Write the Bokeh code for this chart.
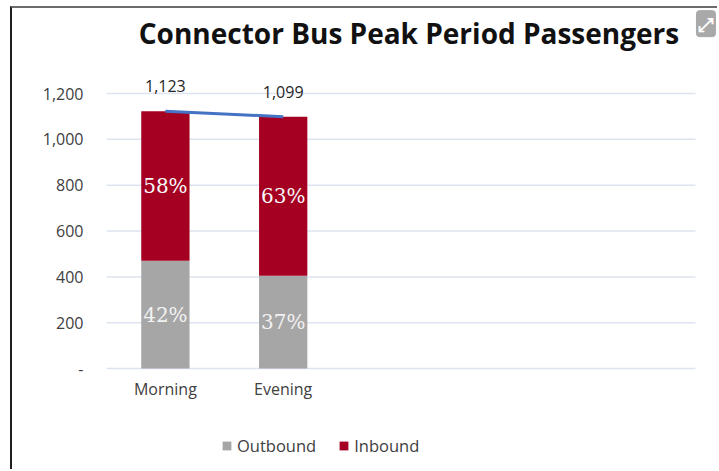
from bokeh.plotting import figure
from bokeh.models import ColumnDataSource, Range1d, Legend, LegendItem, FixedTicker, NumeralTickFormatter, Label
from bokeh.core.properties import value
from bokeh.embed import file_html
from bokeh.resources import INLINE

# ---- data ----
categories = ["Morning", "Evening", "", "", ""]   # five category slots, three empty
periods = ["Morning", "Evening"]
outbound = [470, 405]
inbound = [653, 694]
totals = [1123, 1099]
outbound_pct = ["42%", "37%"]
inbound_pct = ["58%", "63%"]
y_ticks = [0, 200, 400, 600, 800, 1000, 1200]
title_text = "Connector Bus Peak Period Passengers"

GRAY = "#a6a6a6"
RED = "#a50021"
FONT = "Open Sans"

n_slots = len(categories)
xpos = [i + 0.5 for i in range(len(periods))]

src = ColumnDataSource(dict(
    x=xpos,
    period=periods,
    outbound=outbound,
    inbound=inbound,
    total=totals,
    total_lbl=[f"{t:,}" for t in totals],
    out_mid=[o / 2 for o in outbound],
    in_mid=[o + i / 2 for o, i in zip(outbound, inbound)],
    out_pct=outbound_pct,
    in_pct=inbound_pct,
))

# frame spans the full canvas so title, legend and corner icon sit inside it
p = figure(width=707, height=463, x_range=Range1d(0, n_slots + 0.187),
           y_range=Range1d(-436, 1571), output_backend="svg", toolbar_location=None,
           min_border_left=94, min_border_right=2, min_border_top=0, min_border_bottom=3)
p.styles = {"margin-top": "6px", "margin-left": "10px",
            "border-top": "2px solid #6b6b6b", "border-left": "2px solid #1e1e1e"}

# horizontal gridlines across the category slots
p.segment(x0=[0] * len(y_ticks), x1=[n_slots] * len(y_ticks), y0=y_ticks, y1=y_ticks,
          line_color="#dde3ef", line_width=1.5)

title = Label(x=2.568, y=1462, text=title_text, text_align="center",
              text_baseline="middle", text_font=FONT, text_font_style="bold",
              text_font_size="28px", text_color="#111111")
p.add_layout(title)

icon = Label(x=n_slots + 0.089, y=1505, text="⤢", text_align="center",
             text_baseline="middle", text_font="DejaVu Sans", text_font_size="19px",
             text_font_style="bold", text_color="white",
             background_fill_color="#a9a9a9", border_line_color="#a9a9a9",
             border_radius=3, padding=2)
p.add_layout(icon)

rs = p.vbar_stack(["outbound", "inbound"], x="x", width=0.41, source=src,
                  fill_color=[GRAY, RED], line_color=None)

p.line(x="x", y="total", source=src, line_color="#4472c4", line_width=3)

p.text(x="x", y="total", text="total_lbl", source=src, text_align="center",
       text_baseline="bottom", y_offset=-19, text_font=value(FONT),
       text_font_size="16px", text_color="#262626")
p.text(x="x", y="out_mid", text="out_pct", source=src, text_align="center",
       text_baseline="middle", text_font=value("DejaVu Serif"),
       text_font_size="20px", text_color="#f2f2f2")
p.text(x="x", y="in_mid", text="in_pct", source=src, text_align="center",
       text_baseline="middle", text_font=value("DejaVu Serif"),
       text_font_size="20px", text_color="#f7f7f7")

# axes
p.xaxis.fixed_location = 0
p.xaxis.ticker = FixedTicker(ticks=xpos)
p.xaxis.major_label_overrides = {x: name for x, name in zip(xpos, periods)}
p.yaxis.ticker = FixedTicker(ticks=y_ticks)
p.yaxis.formatter = NumeralTickFormatter(format="0,0")
p.yaxis.major_label_overrides = {0: "-"}
for ax in (p.xaxis, p.yaxis):
    ax.axis_line_color = None
    ax.major_tick_line_color = None
    ax.minor_tick_line_color = None
    ax.major_label_text_font = FONT
    ax.major_label_text_font_size = "16px"
    ax.major_label_text_color = "#404040"
p.yaxis.major_label_standoff = 17
p.xaxis.major_label_standoff = 3

p.xgrid.grid_line_color = None
p.ygrid.grid_line_color = None
p.outline_line_color = None

legend = Legend(items=[LegendItem(label="Outbound", renderers=[rs[0]]),
                       LegendItem(label="Inbound", renderers=[rs[1]])],
                orientation="horizontal", location=(115, 11),
                padding=0, margin=0, spacing=22, label_standoff=5,
                glyph_width=11, glyph_height=11,
                label_text_font=FONT, label_text_font_size="16.5px",
                label_text_color="#404040", border_line_color=None,
                background_fill_alpha=0)
p.add_layout(legend, "center")

open("out.html", "w").write(file_html(p, INLINE))
